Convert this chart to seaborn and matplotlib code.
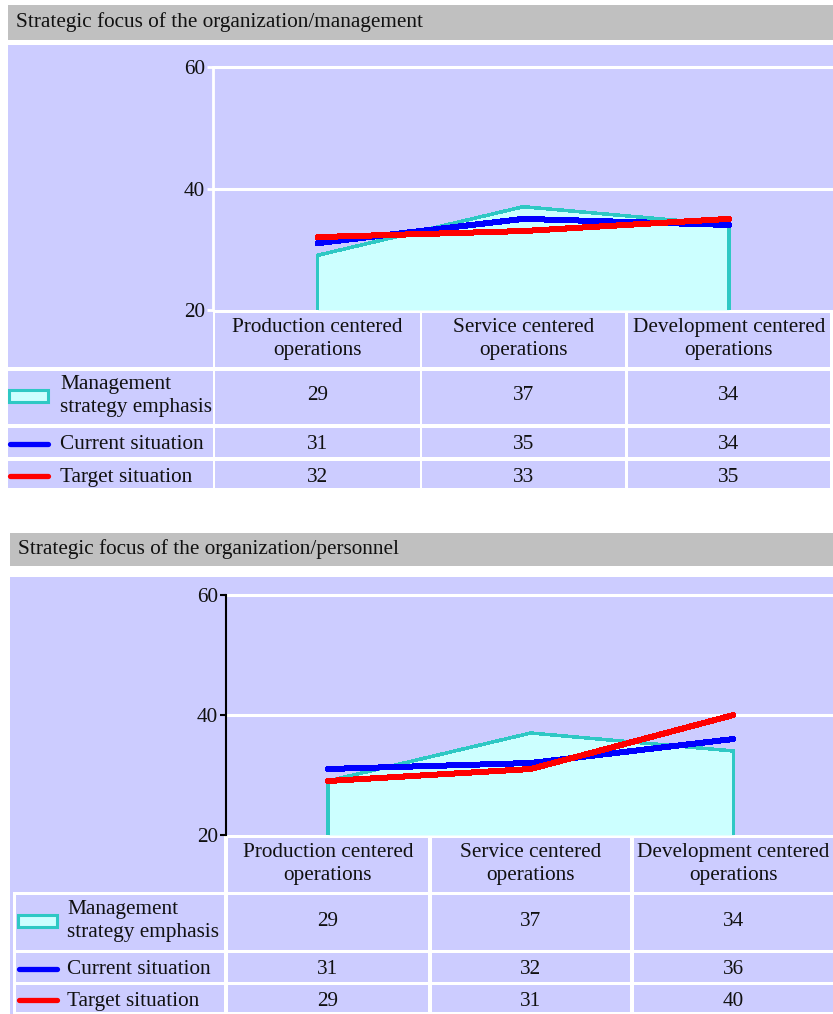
import matplotlib
matplotlib.use("Agg")
import matplotlib.pyplot as plt
from matplotlib.patches import Rectangle
import pandas as pd
import seaborn as sns

# ---- data -------------------------------------------------------------
categories = ["Production centered\noperations",
              "Service centered\noperations",
              "Development centered\noperations"]
series_labels = ["Management\nstrategy emphasis", "Current situation", "Target situation"]
y_ticks = [20, 40, 60]

management_title = "Strategic focus of the organization/management"
management_emphasis = [29, 37, 34]
management_current = [31, 35, 34]
management_target = [32, 33, 35]

personnel_title = "Strategic focus of the organization/personnel"
personnel_emphasis = [29, 37, 34]
personnel_current = [31, 32, 36]
personnel_target = [29, 31, 40]

# ---- style ------------------------------------------------------------
W, H = 833, 1014
LAVENDER = "#ccccff"
HEADER_GRAY = "#c0c0c0"
AREA_FILL = "#ccffff"
AREA_EDGE = "#2ec8c4"
BLUE = "#0000ff"
RED = "#ff0000"
TEXT = "#111111"
FS = 15.3
ROW_TEXT_SHIFT = [-1.5, 2, 3]

sns.set_theme(style="white")
plt.rcParams["font.family"] = ["Liberation Serif", "DejaVu Serif"]

fig = plt.figure(figsize=(W / 100, H / 100), dpi=100)
fig.patch.set_facecolor("white")

# pixel-space canvas for panel backgrounds and the data tables
canvas = fig.add_axes([0, 0, 1, 1])
canvas.set_xlim(0, W)
canvas.set_ylim(H, 0)
canvas.axis("off")


def px_axes(x0, y0, x1, y1):
    return fig.add_axes([x0 / W, 1 - y1 / H, (x1 - x0) / W, (y1 - y0) / H])


def rect(x0, y0, x1, y1, color, z=1, **kw):
    canvas.add_patch(Rectangle((x0, y0), x1 - x0, y1 - y0, facecolor=color,
                               edgecolor=kw.pop("edgecolor", "none"), zorder=z, **kw))


def draw_panel(title, emphasis, current, target, g):
    # title bar and panel background
    rect(g["left"], g["head"][0], W, g["head"][1], HEADER_GRAY)
    canvas.text(g["left"] + 8, sum(g["head"]) / 2, title, ha="left", va="center",
                fontsize=FS, color=TEXT, zorder=3)
    rect(g["left"], g["body"][0], W, g["body"][1], LAVENDER)

    cols, rows = g["cols"], g["rows"]
    # table: white separators behind lavender cells
    rect(g["table_left"], rows[0][0] - 3, W, rows[-1][1] + 2, "white", z=1.5)
    for ri, (y0, y1) in enumerate(rows):
        for ci, (x0, x1) in enumerate(cols):
            if ri == 0 and ci == 0:
                rect(g["left"], rows[0][0] - 4, x1, y1, LAVENDER, z=1.6)
            else:
                rect(x0, y0, x1, y1, LAVENDER, z=1.6)

    # header row: category names
    for ci, name in enumerate(categories):
        x0, x1 = cols[ci + 1]
        canvas.text((x0 + x1) / 2, sum(rows[0]) / 2 - 1, name, ha="center", va="center",
                    fontsize=FS, color=TEXT, linespacing=1.3, zorder=3)

    # value rows
    for ri, values in enumerate([emphasis, current, target]):
        y0, y1 = rows[ri + 1]
        yc = (y0 + y1) / 2 + ROW_TEXT_SHIFT[ri]
        for ci, v in enumerate(values):
            x0, x1 = cols[ci + 1]
            canvas.text((x0 + x1) / 2, yc, str(v), ha="center", va="center",
                        fontsize=FS, color=TEXT, zorder=3)
        canvas.text(g["label_x"], yc, series_labels[ri], ha="left", va="center",
                    fontsize=FS, color=TEXT, linespacing=1.25, zorder=3)

    # legend glyphs
    gx0 = g["glyph_x"]
    yc = sum(rows[1]) / 2 - 2
    rect(gx0 + 1, yc - 6, gx0 + 40, yc + 6, AREA_FILL, z=2, edgecolor=AREA_EDGE, linewidth=2.2)
    for ri, col in ((2, BLUE), (3, RED)):
        yc = sum(rows[ri]) / 2 + 1
        canvas.plot([gx0 + 2, gx0 + 40], [yc, yc], color=col, lw=3.8,
                    solid_capstyle="round", zorder=2)

    # chart area aligned with the table columns
    ax = px_axes(*g["chart"])
    centers = [(x0 + x1) / 2 for x0, x1 in cols[1:]]
    unit = (centers[-1] - centers[0]) / (len(centers) - 1)
    ax.set_xlim((g["chart"][0] - centers[0]) / unit, (g["chart"][2] - centers[0]) / unit)
    ax.set_ylim(y_ticks[0], y_ticks[-1])
    ax.patch.set_alpha(0)

    xs = list(range(len(categories)))
    base = y_ticks[0]
    for t in y_ticks[1:]:
        ax.axhline(t, color="white", lw=2.2, clip_on=False, zorder=0.5)

    ax.fill_between(xs, emphasis, base, color=AREA_FILL, lw=0, zorder=1)
    edge = pd.DataFrame({"x": [xs[0]] + xs + [xs[-1]],
                         "y": [base] + list(emphasis) + [base]})
    sns.lineplot(data=edge, x="x", y="y", sort=False, estimator=None, ax=ax,
                 color=AREA_EDGE, lw=1.8, antialiased=False, zorder=2)
    sns.lineplot(x=xs, y=current, ax=ax, color=BLUE, lw=3.6, antialiased=False,
                 solid_capstyle="round", zorder=3)
    sns.lineplot(x=xs, y=target, ax=ax, color=RED, lw=3.6, antialiased=False,
                 solid_capstyle="round", zorder=4)

    ax.set_xlabel("")
    ax.set_ylabel("")
    ax.set_xticks([])
    ax.set_yticks(y_ticks)
    ax.set_yticklabels([str(t) for t in y_ticks])
    for side in ("top", "right", "bottom"):
        ax.spines[side].set_visible(False)
    ax.spines["left"].set_color(g["spine"])
    ax.spines["left"].set_linewidth(g["spine_w"])
    ax.tick_params(axis="y", left=True, length=4, width=g["spine_w"], color=g["spine"],
                   labelsize=FS, labelcolor=TEXT, pad=2)
    ax.grid(False)
    return ax


top = dict(left=8, head=(5, 40), body=(45, 490), table_left=8,
           cols=[(8, 213), (215, 420), (422, 625), (628, 830)],
           rows=[(313, 367), (371, 424), (428, 457), (461, 488)],
           chart=(213, 67, 833, 310), label_x=60, glyph_x=8,
           spine="white", spine_w=2.0)

bottom = dict(left=10, head=(533, 566), body=(577, 1014), table_left=13,
              cols=[(16, 224), (228, 428), (432, 630), (634, 833)],
              rows=[(838, 892), (895, 950), (953, 982), (985, 1012)],
              chart=(226, 595, 833, 835), label_x=67, glyph_x=17,
              spine="black", spine_w=1.5)

draw_panel(management_title, management_emphasis, management_current, management_target, top)
draw_panel(personnel_title, personnel_emphasis, personnel_current, personnel_target, bottom)

fig.savefig("out.png", dpi=100, facecolor="white")
